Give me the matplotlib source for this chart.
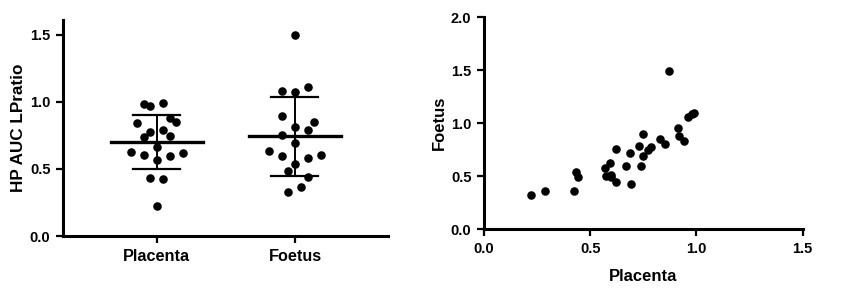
import numpy as np
import matplotlib
matplotlib.use("Agg")
import matplotlib.pyplot as plt

plt.rcParams["font.family"] = ["Liberation Sans", "DejaVu Sans"]
plt.rcParams["font.weight"] = "bold"

# Column scatter (left): values per group, with horizontal jitter steps
groups = ["Placenta", "Foetus"]
placenta_vals = [0.984, 0.969, 0.989, 0.840, 0.877, 0.852, 0.777, 0.790, 0.740,
                 0.745, 0.665, 0.628, 0.604, 0.596, 0.621, 0.566, 0.434, 0.422, 0.224]
placenta_jit = [-2, -1, 1, -3, 2, 3, -1, 1, -2, 2, 0, -4, -2, 2, 4, 0, -1, 1, 0]
foetus_vals = [1.498, 1.083, 1.071, 1.108, 0.897, 0.852, 0.815, 0.790, 0.753,
               0.695, 0.636, 0.598, 0.579, 0.601, 0.537, 0.487, 0.438, 0.368, 0.326]
foetus_jit = [0, -2, 0, 2, -2, 3, 0, 2, -2, 0, -4, -2, 2, 4, 0, -1, 2, 1, -1]

# XY scatter (right)
scatter_x = [0.223, 0.287, 0.423, 0.432, 0.443, 0.569, 0.592, 0.573, 0.597, 0.620,
             0.620, 0.666, 0.694, 0.686, 0.730, 0.738, 0.746, 0.746, 0.773, 0.784,
             0.828, 0.851, 0.872, 0.914, 0.918, 0.942, 0.961, 0.977, 0.988, 0.600]
scatter_y = [0.324, 0.364, 0.361, 0.534, 0.496, 0.575, 0.628, 0.503, 0.490, 0.440,
             0.760, 0.594, 0.427, 0.717, 0.786, 0.597, 0.896, 0.691, 0.748, 0.779,
             0.849, 0.805, 1.487, 0.953, 0.874, 0.827, 1.062, 1.088, 1.100, 0.506]

SPINE_W = 2.2
TICK_KW = dict(direction="out", length=5, width=1.6, labelsize=10.5, pad=4)
JIT_STEP = 0.047
DOT_S = 38


def style_axes(ax):
    for side in ["top", "right"]:
        ax.spines[side].set_visible(False)
    for side in ["left", "bottom"]:
        ax.spines[side].set_linewidth(SPINE_W)
    ax.tick_params(**TICK_KW)
    for lab in ax.get_xticklabels() + ax.get_yticklabels():
        lab.set_fontweight("bold")


fig = plt.figure(figsize=(8.41, 2.90), dpi=100)

# Left panel: dot plot with mean and SD
ax1 = fig.add_axes([0.0749, 0.186, 0.3865, 0.745])
for i, (vals, jit) in enumerate([(placenta_vals, placenta_jit), (foetus_vals, foetus_jit)]):
    vals = np.array(vals)
    xs = i + np.array(jit) * JIT_STEP
    ax1.scatter(xs, vals, s=DOT_S, color="black", zorder=3, linewidths=0)
    m = vals.mean()
    sd = vals.std(ddof=1)
    ax1.plot([i - 0.333, i + 0.333], [m, m], color="black", lw=2.4, zorder=4)
    ax1.plot([i, i], [m - sd, m + sd], color="black", lw=1.4, zorder=4)
    ax1.plot([i - 0.17, i + 0.17], [m + sd, m + sd], color="black", lw=1.6, zorder=4)
    ax1.plot([i - 0.17, i + 0.17], [m - sd, m - sd], color="black", lw=1.6, zorder=4)

ax1.set_xlim(-0.68, 1.674)
ax1.set_ylim(0, 1.61)
ax1.set_yticks([0, 0.5, 1.0, 1.5])
ax1.set_yticklabels(["0.0", "0.5", "1.0", "1.5"])
ax1.set_xticks([0, 1])
ax1.set_xticklabels(groups)
ax1.set_ylabel("HP AUC LPratio", fontsize=12.3, fontweight="bold", labelpad=3)
style_axes(ax1)
ax1.tick_params(axis="x", labelsize=11.7, pad=4)

# Right panel: Placenta vs Foetus
ax2 = fig.add_axes([0.5755, 0.210, 0.3790, 0.731])
ax2.scatter(scatter_x, scatter_y, s=DOT_S, color="black", zorder=3, linewidths=0)
ax2.set_xlim(0, 1.5)
ax2.set_ylim(0, 2.0)
ax2.set_xticks([0, 0.5, 1.0, 1.5])
ax2.set_xticklabels(["0.0", "0.5", "1.0", "1.5"])
ax2.set_yticks([0, 0.5, 1.0, 1.5, 2.0])
ax2.set_yticklabels(["0.0", "0.5", "1.0", "1.5", "2.0"])
ax2.set_xlabel("Placenta", fontsize=12, fontweight="bold", labelpad=10)
ax2.set_ylabel("Foetus", fontsize=12, fontweight="bold", labelpad=3)
style_axes(ax2)

fig.savefig("out.png", dpi=100)
